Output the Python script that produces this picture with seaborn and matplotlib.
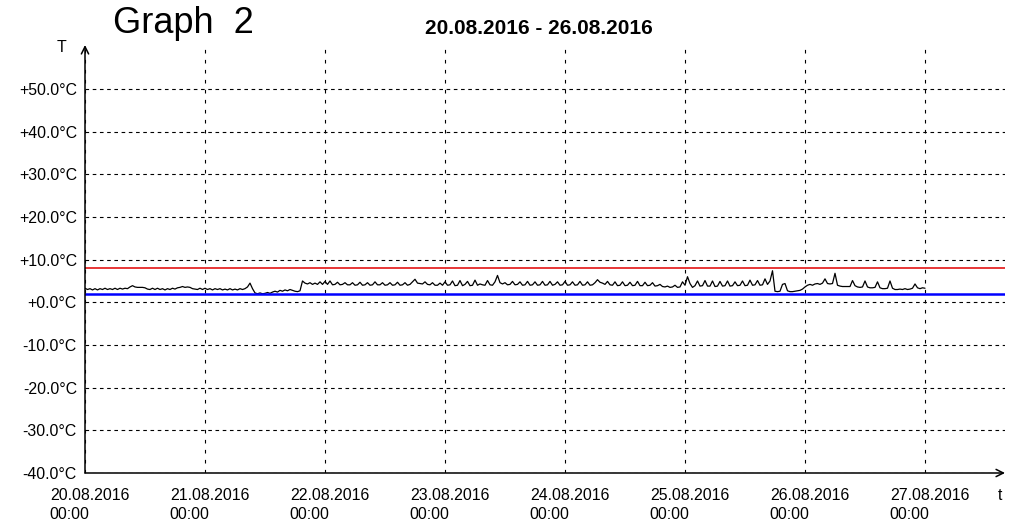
import numpy as np
import pandas as pd
import seaborn as sns
import matplotlib.pyplot as plt
import matplotlib.dates as mdates
import matplotlib.transforms as mtransforms

# Temperature readings every 30 minutes, one list per day
day1 = [3.3, 3.0, 3.2, 2.9, 3.2, 2.9, 3.2, 3.0, 3.3, 3.0, 3.2, 3.0,
        3.3, 3.0, 3.3, 3.1, 3.3, 3.2, 3.6, 3.9, 3.6, 3.5, 3.5, 3.5,
        3.4, 3.1, 3.0, 3.3, 3.0, 3.3, 3.0, 3.2, 2.9, 3.2, 3.0, 3.3,
        3.1, 3.4, 3.5, 3.7, 3.5, 3.6, 3.5, 3.2, 3.1, 3.0, 3.3, 3.0]
day2 = [3.3, 3.0, 3.2, 2.9, 3.2, 3.0, 3.2, 2.9, 3.1, 2.9, 3.2, 2.9,
        3.1, 2.9, 3.2, 3.0, 3.2, 3.6, 4.5, 3.2, 2.2, 2.0, 2.2, 2.0,
        2.1, 2.3, 2.1, 2.4, 2.6, 2.4, 2.8, 2.6, 2.9, 2.7, 3.0, 2.8,
        2.6, 2.5, 2.7, 5.0, 4.5, 4.3, 4.6, 4.2, 4.5, 4.2, 4.8, 4.2]
day3 = [4.9, 4.2, 5.0, 4.1, 4.2, 4.7, 4.1, 4.2, 4.6, 4.1, 4.1, 4.6,
        4.0, 4.1, 4.7, 4.0, 4.1, 4.6, 4.0, 4.1, 4.8, 4.1, 4.1, 4.6,
        4.0, 4.1, 4.6, 4.0, 4.1, 4.7, 4.0, 4.1, 4.6, 4.0, 4.2, 4.8,
        5.4, 4.5, 4.4, 4.3, 4.8, 4.2, 4.1, 4.6, 4.0, 4.0, 4.5, 4.0]
day4 = [4.8, 4.0, 4.1, 5.0, 3.9, 4.0, 5.1, 3.9, 4.2, 4.9, 3.9, 4.0,
        5.2, 4.0, 4.3, 4.1, 4.0, 5.1, 4.1, 4.0, 4.8, 6.3, 4.6, 4.3,
        4.6, 4.1, 4.2, 4.9, 4.1, 4.2, 4.8, 4.0, 4.1, 4.9, 4.0, 4.1,
        4.8, 4.0, 4.1, 4.9, 4.0, 4.1, 4.9, 4.0, 4.2, 4.8, 4.0, 4.1]
day5 = [4.9, 4.0, 4.1, 4.8, 4.0, 4.1, 4.9, 4.0, 4.1, 4.8, 4.0, 4.1,
        4.6, 5.3, 4.7, 4.5, 4.2, 4.9, 4.1, 4.0, 4.8, 3.9, 4.0, 4.8,
        3.9, 4.0, 4.7, 3.9, 4.0, 4.9, 3.9, 3.9, 4.7, 3.9, 4.0, 4.6,
        3.8, 3.9, 4.2, 3.7, 3.6, 3.8, 3.5, 3.6, 4.0, 3.5, 3.6, 4.8]
day6 = [4.0, 6.0, 4.4, 3.5, 3.9, 5.0, 3.8, 3.9, 5.1, 3.8, 3.8, 5.0,
        3.7, 3.8, 4.9, 3.8, 3.9, 5.0, 3.8, 3.9, 4.8, 3.9, 4.0, 5.0,
        3.9, 4.0, 5.2, 4.0, 4.1, 5.1, 4.0, 4.1, 5.5, 4.2, 5.0, 7.4,
        2.6, 2.5, 2.6, 4.2, 4.4, 2.7, 2.5, 2.5, 2.6, 2.7, 2.8, 3.1]
day7 = [3.6, 4.0, 4.2, 4.0, 4.3, 4.4, 4.2, 4.5, 5.5, 4.4, 4.3, 4.4,
        6.8, 4.0, 3.8, 3.7, 3.7, 3.7, 3.7, 5.1, 3.9, 3.6, 3.5, 3.6,
        5.0, 3.6, 3.4, 3.4, 3.5, 4.8, 3.4, 3.2, 3.2, 3.3, 5.0, 3.3,
        3.0, 3.0, 3.1, 3.0, 3.2, 3.0, 3.1, 3.3, 4.3, 3.4, 3.2, 3.4,
        3.3]

upper_limit = 8.0
lower_limit = 2.0
y_ticks = [50, 40, 30, 20, 10, 0, -10, -20, -30, -40]
y_tick_labels = ["+50.0°C", "+40.0°C", "+30.0°C", "+20.0°C", "+10.0°C",
                 "+0.0°C", "-10.0°C", "-20.0°C", "-30.0°C", "-40.0°C"]
title = "Graph  2"
period = "20.08.2016 - 26.08.2016"

temps = day1 + day2 + day3 + day4 + day5 + day6 + day7
df = pd.DataFrame({
    "time": pd.date_range("2016-08-20 00:00", periods=len(temps), freq="30min"),
    "temp": temps,
})

sns.set_style("white")
plt.rcParams["font.family"] = ["Liberation Sans", "DejaVu Sans"]
plt.rcParams["lines.scale_dashes"] = False
plt.rcParams["text.color"] = "black"

W, H = 1020, 527
fig = plt.figure(figsize=(W / 100, H / 100), dpi=100)
ax = fig.add_axes([85 / W, 1 - 473 / H, (1005 - 85) / W, (473 - 45) / H])

sns.lineplot(data=df, x="time", y="temp", color="black", lw=0.9, ax=ax)
ax.axhline(upper_limit, color="#e00000", lw=1.1)
ax.axhline(lower_limit, color="#0000ff", lw=1.8)

start = pd.Timestamp("2016-08-20 00:00")
ax.set_xlim(start, start + pd.Timedelta(hours=7 * 24 + 16))
ax.set_ylim(-40, 60.3)

ax.set_xticks(pd.date_range("2016-08-20", "2016-08-27", freq="D"))
ax.xaxis.set_major_formatter(mdates.DateFormatter("%d.%m.%Y\n%H:%M"))
ax.set_yticks(y_ticks)
ax.set_yticklabels(y_tick_labels)
ax.set_xlabel("")
ax.set_ylabel("")
ax.tick_params(axis="both", length=0, labelsize=11.4, colors="black")
ax.tick_params(axis="y", pad=5.8)
ax.tick_params(axis="x", pad=11)

offset = mtransforms.ScaledTranslation(0.045, 0, fig.dpi_scale_trans)
for lbl in ax.get_xticklabels():
    lbl.set_multialignment("left")
    lbl.set_linespacing(1.3)
    lbl.set_transform(lbl.get_transform() + offset)

ax.yaxis.grid(True, color="black", lw=0.8, ls=(0, (2.6, 2.6)))
ax.xaxis.grid(True, color="black", lw=0.8, ls=(0, (2.6, 4.6)))
ax.set_axisbelow(True)

for s in ax.spines.values():
    s.set_visible(False)

arrow = dict(arrowstyle="->", lw=1.1, color="black", mutation_scale=13,
             shrinkA=0, shrinkB=0)
ax.annotate("", xy=(1, 0), xytext=(0, 0), xycoords="axes fraction", arrowprops=arrow)
ax.annotate("", xy=(0, 1), xytext=(0, 0), xycoords="axes fraction", arrowprops=arrow)

fig.text(62 / W, 1 - 48 / H, "T", ha="center", va="center", fontsize=11.4)
fig.text(1000 / W, 1 - 495 / H, "t", ha="center", va="center", fontsize=11.4)
fig.text(113 / W, 1 - 33 / H, title, ha="left", va="baseline", fontsize=26)
fig.text(539 / W, 1 - 34 / H, period, ha="center", va="baseline",
         fontsize=15, fontweight="bold")

fig.savefig("out.png", dpi=100)
